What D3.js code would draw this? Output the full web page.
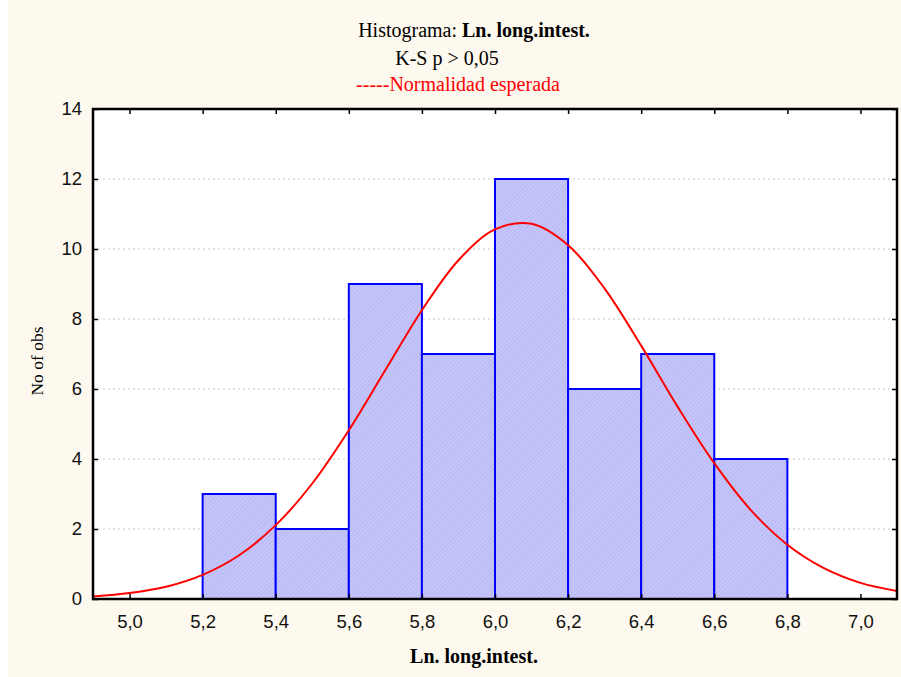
<!DOCTYPE html>
<html>
<head>
<meta charset="utf-8">
<script src="https://cdn.jsdelivr.net/npm/d3@7"></script>
<style>
  body { margin: 0; background: #fff; }
  svg { display: block; }
</style>
</head>
<body>
<div id="chart"></div>
<script>
// histogram bins (lower edges) and counts
var binStarts = [5.2, 5.4, 5.6, 5.8, 6.0, 6.2, 6.4, 6.6];
var binWidth = 0.2;
var counts = [3, 2, 9, 7, 12, 6, 7, 4];

// expected normal curve
var curveX = [4.9, 5.0, 5.1, 5.2, 5.3, 5.4, 5.5, 5.6, 5.7, 5.8, 5.9, 6.0,
              6.1, 6.2, 6.3, 6.4, 6.5, 6.6, 6.7, 6.8, 6.9, 7.0, 7.1];
var curveY = [0.07, 0.17, 0.35, 0.69, 1.25, 2.11, 3.30, 4.82, 6.54, 8.25, 9.68, 10.56,
              10.72, 10.11, 8.87, 7.24, 5.49, 3.88, 2.54, 1.55, 0.88, 0.46, 0.23];

var xTicks = [5.0, 5.2, 5.4, 5.6, 5.8, 6.0, 6.2, 6.4, 6.6, 6.8, 7.0];
var yTicks = [0, 2, 4, 6, 8, 10, 12, 14];

var W = 901, H = 677;
var margin = {top: 109, right: 4, bottom: 78, left: 93};
var w = W - margin.left - margin.right,
    h = H - margin.top - margin.bottom;

var svg = d3.select("#chart").append("svg")
    .attr("width", W)
    .attr("height", H);

svg.append("rect")
    .attr("x", 8).attr("y", 0)
    .attr("width", W - 8).attr("height", H)
    .attr("fill", "#fdf9ee");

// hatched fill for bars
var defs = svg.append("defs");
var pat = defs.append("pattern")
    .attr("id", "hatch")
    .attr("patternUnits", "userSpaceOnUse")
    .attr("width", 3).attr("height", 3)
    .attr("patternTransform", "rotate(45)");
pat.append("rect").attr("width", 3).attr("height", 3).attr("fill", "#c6c6fb");
pat.append("line")
    .attr("x1", 0).attr("y1", 0).attr("x2", 0).attr("y2", 3)
    .attr("stroke", "#aeaef0").attr("stroke-width", 1.2);

var x = d3.scaleLinear().domain([4.9, 7.1]).range([0, w]);
var y = d3.scaleLinear().domain([0, 14]).range([h, 0]);

var g = svg.append("g")
    .attr("transform", "translate(" + margin.left + "," + margin.top + ")");

g.append("rect")
    .attr("width", w).attr("height", h)
    .attr("fill", "#fff");

// grid lines
g.selectAll(".grid")
    .data(yTicks.filter(function(d) { return d > 0 && d < 14; }))
    .enter().append("line")
    .attr("x1", 0).attr("x2", w)
    .attr("y1", function(d) { return y(d); })
    .attr("y2", function(d) { return y(d); })
    .attr("stroke", "#c8c8c8")
    .attr("stroke-dasharray", "2,3");

// bars
g.selectAll(".bar")
    .data(counts)
    .enter().append("rect")
    .attr("x", function(d, i) { return x(binStarts[i]); })
    .attr("y", function(d) { return y(d); })
    .attr("width", function(d, i) { return x(binStarts[i] + binWidth) - x(binStarts[i]); })
    .attr("height", function(d) { return h - y(d); })
    .attr("fill", "url(#hatch)")
    .attr("stroke", "#0000ff")
    .attr("stroke-width", 2);

// normal curve
var line = d3.line()
    .x(function(d, i) { return x(curveX[i]); })
    .y(function(d) { return y(d); })
    .curve(d3.curveCatmullRom);

g.append("path")
    .datum(curveY)
    .attr("d", line)
    .attr("fill", "none")
    .attr("stroke", "#ff0000")
    .attr("stroke-width", 2);

// axes, ticks pointing inward
var fmt = function(d) { return d3.format(".1f")(d).replace(".", ","); };

var xAxis = g.append("g")
    .attr("transform", "translate(0," + h + ")")
    .call(d3.axisBottom(x).tickValues(xTicks).tickSize(-5).tickPadding(16).tickFormat(fmt));
var xTop = g.append("g")
    .call(d3.axisTop(x).tickValues(xTicks).tickSize(-5).tickFormat(""));
var yAxis = g.append("g")
    .call(d3.axisLeft(y).tickValues(yTicks).tickSize(-5).tickPadding(11));
var yRight = g.append("g")
    .attr("transform", "translate(" + w + ",0)")
    .call(d3.axisRight(y).tickValues(yTicks).tickSize(-5).tickFormat(""));

[xAxis, xTop, yAxis, yRight].forEach(function(a) {
    a.select(".domain").remove();
    a.selectAll("line").attr("stroke", "#000").attr("stroke-width", 1.5);
    a.selectAll("text")
        .attr("font-family", "Liberation Sans, Arial, sans-serif")
        .attr("font-size", 18.5)
        .attr("fill", "#111");
});

g.append("rect")
    .attr("width", w).attr("height", h)
    .attr("fill", "none")
    .attr("stroke", "#000")
    .attr("stroke-width", 2.5);

// titles
var serif = "Liberation Serif, Times New Roman, serif";

var t1 = svg.append("text")
    .attr("x", 474).attr("y", 37)
    .attr("text-anchor", "middle")
    .attr("font-family", serif).attr("font-size", 20)
    .attr("fill", "#000");
t1.append("tspan").text("Histograma: ");
t1.append("tspan").attr("font-weight", "bold").text("Ln. long.intest.");

svg.append("text")
    .attr("x", 447).attr("y", 65)
    .attr("text-anchor", "middle")
    .attr("font-family", serif).attr("font-size", 20)
    .attr("fill", "#000")
    .text("K-S p > 0,05");

svg.append("text")
    .attr("x", 458).attr("y", 91)
    .attr("text-anchor", "middle")
    .attr("font-family", serif).attr("font-size", 20)
    .attr("fill", "#ff0000")
    .text("-----Normalidad esperada");

svg.append("text")
    .attr("x", 474).attr("y", 663)
    .attr("text-anchor", "middle")
    .attr("font-family", serif).attr("font-size", 20)
    .attr("font-weight", "bold")
    .attr("fill", "#000")
    .text("Ln. long.intest.");

svg.append("text")
    .attr("transform", "translate(43," + (margin.top + h / 2 + 7) + ") rotate(-90)")
    .attr("text-anchor", "middle")
    .attr("font-family", serif).attr("font-size", 17.5)
    .attr("fill", "#000")
    .text("No of obs");
</script>
</body>
</html>
